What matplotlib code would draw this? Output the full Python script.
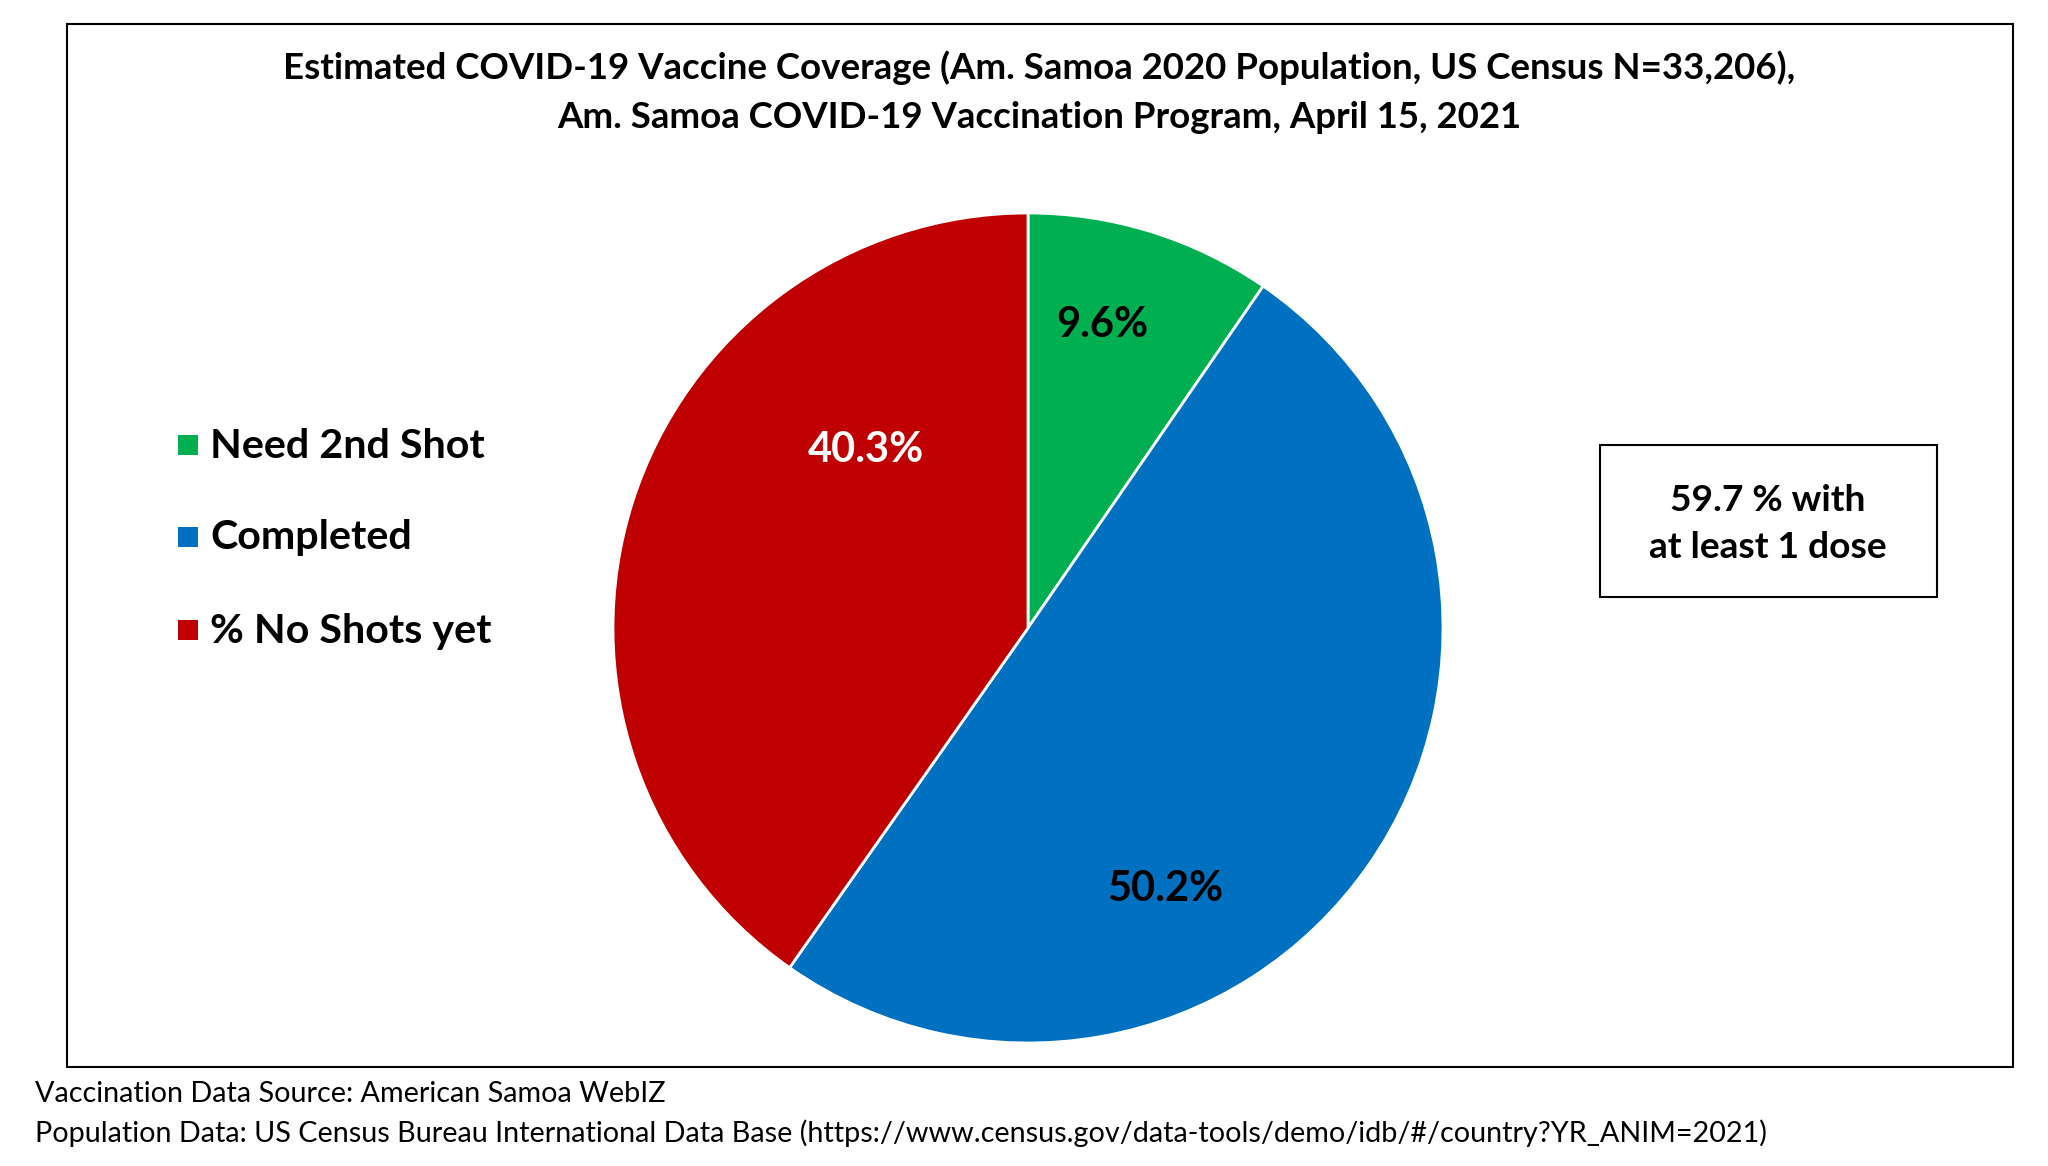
import matplotlib
matplotlib.use("Agg")
import matplotlib.pyplot as plt
from matplotlib.patches import Rectangle

plt.rcParams['font.family'] = ['Lato', 'DejaVu Sans']

categories = ['Need 2nd Shot', 'Completed', '% No Shots yet']
values = [9.6, 50.2, 40.3]
colors = ['#00B050', '#0070C0', '#C00000']
label_colors = ['black', 'black', 'white']
title = ('Estimated COVID-19 Vaccine Coverage (Am. Samoa 2020 Population, US Census N=33,206),\n'
         'Am. Samoa COVID-19 Vaccination Program, April 15, 2021')
box_text = '59.7 % with\nat least 1 dose'
notes = ['Vaccination Data Source: American Samoa WebIZ',
         'Population Data: US Census Bureau International Data Base '
         '(https://www.census.gov/data-tools/demo/idb/#/country?YR_ANIM=2021)']

W, H = 2048, 1166


def fx(x):
    return x / W


def fy(y):
    return 1 - y / H


fig = plt.figure(figsize=(W / 100, H / 100), dpi=100)

# outer chart frame
fig.patches.append(Rectangle((fx(67), fy(1067)), fx(2013) - fx(67), fy(24) - fy(1067),
                             transform=fig.transFigure, fill=False, edgecolor='black',
                             linewidth=1.5))

# pie axes, centre (1028, 628), radius 415 px
r = 415
ax = fig.add_axes([fx(1028 - r), fy(628 + r), 2 * r / W, 2 * r / H])
wedges, texts, autotexts = ax.pie(values, colors=colors, startangle=90, counterclock=False,
                                  autopct='%1.1f%%', radius=1,
                                  wedgeprops=dict(edgecolor='white', linewidth=2),
                                  textprops=dict(fontsize=30, fontweight='bold'))
ax.set_xlim(-1, 1)
ax.set_ylim(-1, 1)
ax.axis('off')

# label spots (Excel best-fit placement), in pie radius units
label_pos = [(0.18, 0.73), (0.33, -0.63), (-0.39, 0.43)]
for t, v, pos, c in zip(autotexts, values, label_pos, label_colors):
    t.set_text(f'{v:.1f}%')
    t.set_position(pos)
    t.set_color(c)

fig.text(0.5 * (fx(282) + fx(1796)), fy(92), title, ha='center', va='center',
         fontsize=26.4, fontweight='bold', linespacing=1.6)

# legend
leg_y = [445, 537, 630]
for name, c, y in zip(categories, colors, leg_y):
    fig.patches.append(Rectangle((fx(178), fy(y + 10)), 20 / W, 20 / H,
                                 transform=fig.transFigure, facecolor=c, edgecolor='none'))
    fig.text(fx(210), fy(y + 1), name, ha='left', va='center', fontsize=29.7, fontweight='bold')

# side box
fig.patches.append(Rectangle((fx(1600), fy(597)), fx(1937) - fx(1600), fy(445) - fy(597),
                             transform=fig.transFigure, fill=False, edgecolor='black',
                             linewidth=1.5))
fig.text(fx(1768), fy(524), box_text, ha='center', va='center', fontsize=26.7,
         fontweight='bold', linespacing=1.55)

fig.text(fx(35), fy(1094), notes[0], ha='left', va='center', fontsize=20.7)
fig.text(fx(35), fy(1133), notes[1], ha='left', va='center', fontsize=20.7)

fig.savefig('out.png', dpi=100, facecolor='white')
